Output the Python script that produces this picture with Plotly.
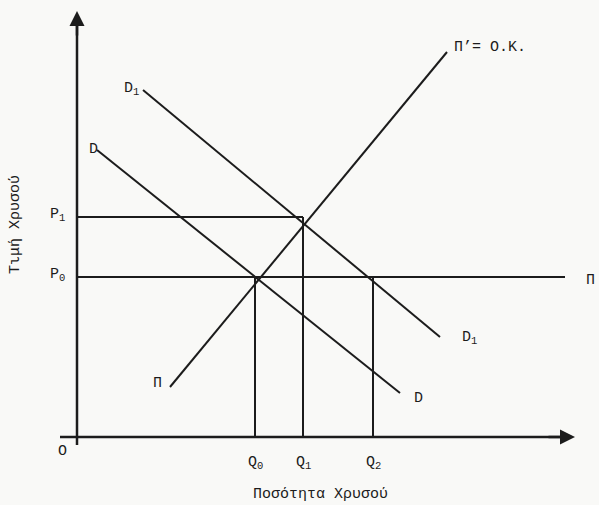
import plotly.graph_objects as go

# Economic diagram values (abstract units: x = quantity, y = price)
Q_levels = {"Q0": 178, "Q1": 226, "Q2": 296}
P_levels = {"P0": 160, "P1": 220}
supply_line = ([93, 370], [50, 385])        # Π' = O.K.
demand_D = ([20, 323], [287, 44])            # D
demand_D1 = ([66, 363], [347, 100])          # D1
p0_line_x = [0, 488]
p1_line_x = [0, Q_levels["Q1"]]

INK = "#1c1c1c"
FONT = "Liberation Mono"

fig = go.Figure()

def seg(xs, ys, w=2):
    fig.add_trace(go.Scatter(x=xs, y=ys, mode="lines",
                             line=dict(color=INK, width=w), hoverinfo="skip", showlegend=False))

seg(*supply_line)
seg(*demand_D)
seg(*demand_D1)
seg(p0_line_x, [P_levels["P0"]] * 2)
seg(p1_line_x, [P_levels["P1"]] * 2)
seg([Q_levels["Q0"]] * 2, [0, P_levels["P0"]])
seg([Q_levels["Q1"]] * 2, [0, P_levels["P1"]])
seg([Q_levels["Q2"]] * 2, [0, P_levels["P0"]])

# axes
seg([0, 0], [-8, 420], 2.5)
seg([-17, 490], [0, 0], 2.5)

annotations = [
    dict(x=0, y=426, ax=0, ay=400, xref="x", yref="y", axref="x", ayref="y",
         showarrow=True, arrowhead=2, arrowsize=1.2, arrowwidth=2.5, arrowcolor=INK, text=""),
    dict(x=498, y=0, ax=470, ay=0, xref="x", yref="y", axref="x", ayref="y",
         showarrow=True, arrowhead=2, arrowsize=1.2, arrowwidth=2.5, arrowcolor=INK, text=""),
]

def label(x, y, text, size=15, **kw):
    annotations.append(dict(x=x, y=y, xref="x", yref="y", text=text, showarrow=False,
                            font=dict(family=FONT, size=size, color=INK), **kw))

label(-15, -14, "O")
label(-20, 222, "P<sub>1</sub>")
label(-20, 162, "P<sub>0</sub>")
label(Q_levels["Q0"], -26, "Q<sub>0</sub>")
label(Q_levels["Q1"], -26, "Q<sub>1</sub>")
label(Q_levels["Q2"], -26, "Q<sub>2</sub>")
label(54, 348, "D<sub>1</sub>")
label(16, 288, "D")
label(392, 99, "D<sub>1</sub>")
label(341, 39, "D")
label(80, 54, "Π")
label(413, 390, "Π’= O.K.")
label(513, 157, "Π")
label(243, -57, "Ποσότητα Χρυσού")
label(-62, 212, "Τιμή Χρυσού", textangle=-90)

fig.update_layout(
    width=599, height=505,
    margin=dict(l=0, r=0, t=0, b=0),
    paper_bgcolor="#f9f9f7", plot_bgcolor="#f9f9f7",
    xaxis=dict(range=[-77, 522], visible=False, fixedrange=True),
    yaxis=dict(range=[-68, 437], visible=False, fixedrange=True),
    annotations=annotations,
    showlegend=False,
)

fig.write_html("out.html", config={"displayModeBar": False},
               post_script="document.body.style.margin='0';document.body.style.overflow='hidden';")
